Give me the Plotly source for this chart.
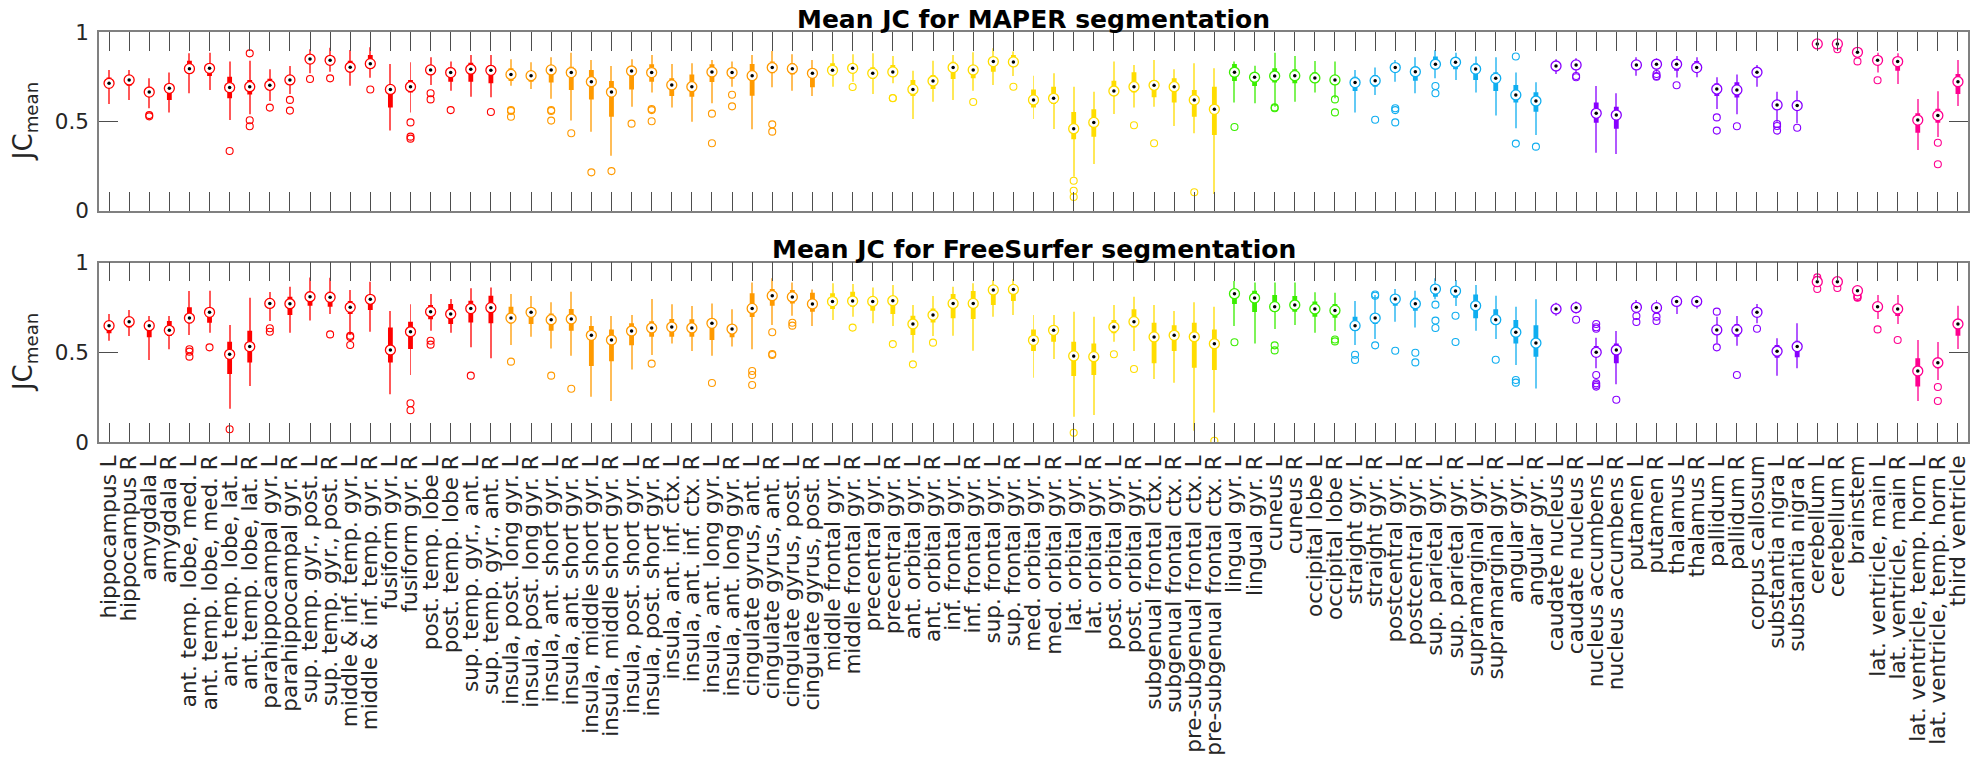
import plotly.graph_objects as go

labels = [
    "hippocampus L", "hippocampus R", "amygdala L", "amygdala R",
    "ant. temp. lobe, med. L", "ant. temp. lobe, med. R", "ant. temp. lobe, lat. L", "ant. temp. lobe, lat. R",
    "parahippocampal gyr. L", "parahippocampal gyr. R", "sup. temp. gyr., post. L", "sup. temp. gyr., post. R",
    "middle & inf. temp. gyr. L", "middle & inf. temp. gyr. R", "fusiform gyr. L", "fusiform gyr. R",
    "post. temp. lobe L", "post. temp. lobe R", "sup. temp. gyr., ant. L", "sup. temp. gyr., ant. R",
    "insula, post. long gyr. L", "insula, post. long gyr. R", "insula, ant. short gyr. L", "insula, ant. short gyr. R",
    "insula, middle short gyr. L", "insula, middle short gyr. R", "insula, post. short gyr. L", "insula, post. short gyr. R",
    "insula, ant. inf. ctx. L", "insula, ant. inf. ctx. R", "insula, ant. long gyr. L", "insula, ant. long gyr. R",
    "cingulate gyrus, ant. L", "cingulate gyrus, ant. R", "cingulate gyrus, post. L", "cingulate gyrus, post. R",
    "middle frontal gyr. L", "middle frontal gyr. R", "precentral gyr. L", "precentral gyr. R",
    "ant. orbital gyr. L", "ant. orbital gyr. R", "inf. frontal gyr. L", "inf. frontal gyr. R",
    "sup. frontal gyr. L", "sup. frontal gyr. R", "med. orbital gyr. L", "med. orbital gyr. R",
    "lat. orbital gyr. L", "lat. orbital gyr. R", "post. orbital gyr. L", "post. orbital gyr. R",
    "subgenual frontal ctx. L", "subgenual frontal ctx. R", "pre-subgenual frontal ctx. L", "pre-subgenual frontal ctx. R",
    "lingual gyr. L", "lingual gyr. R", "cuneus L", "cuneus R",
    "occipital lobe L", "occipital lobe R", "straight gyr. L", "straight gyr. R",
    "postcentral gyr. L", "postcentral gyr. R", "sup. parietal gyr. L", "sup. parietal gyr. R",
    "supramarginal gyr. L", "supramarginal gyr. R", "angular gyr. L", "angular gyr. R",
    "caudate nucleus L", "caudate nucleus R", "nucleus accumbens L", "nucleus accumbens R",
    "putamen L", "putamen R", "thalamus L", "thalamus R",
    "pallidum L", "pallidum R", "corpus callosum", "substantia nigra L", "substantia nigra R",
    "cerebellum L", "cerebellum R", "brainstem",
    "lat. ventricle, main L", "lat. ventricle, main R", "lat. ventricle, temp. horn L", "lat. ventricle, temp. horn R",
    "third ventricle",
]

group_colors = ["#ff0000", "#ff9a00", "#ffdd00", "#3aee00", "#10aef0", "#8800ff", "#ff0090"]
group_sizes = [20, 16, 20, 6, 10, 13, 8]

# ---------- MAPER ----------
maper_lo = [0.598, 0.621, 0.574, 0.551, 0.658, 0.677, 0.508, 0.540, 0.615, 0.654,
            0.770, 0.779, 0.701, 0.745, 0.449, 0.551, 0.705, 0.673, 0.639, 0.636,
            0.701, 0.682, 0.628, 0.505, 0.443, 0.308, 0.583, 0.662, 0.579, 0.499,
            0.602, 0.695, 0.456, 0.692, 0.673, 0.643, 0.695, 0.723, 0.654, 0.714,
            0.514, 0.611, 0.621, 0.673, 0.705, 0.755, 0.514, 0.458, 0.191, 0.262,
            0.542, 0.578, 0.583, 0.475, 0.434, 0.093, 0.606, 0.602, 0.583, 0.611,
            0.662, 0.630, 0.550, 0.649, 0.723, 0.658, 0.742, 0.733, 0.662, 0.533,
            0.462, 0.424, 0.766, 0.770, 0.325, 0.318, 0.757, 0.770, 0.746, 0.748,
            0.570, 0.540, 0.695, 0.499, 0.490, 0.907, 0.910, 0.864, 0.774, 0.710,
            0.340, 0.413, 0.587]
maper_q1 = [0.695, 0.701, 0.649, 0.621, 0.780, 0.755, 0.630, 0.652, 0.677, 0.714,
            0.826, 0.817, 0.789, 0.807, 0.579, 0.662, 0.770, 0.723, 0.723, 0.714,
            0.727, 0.723, 0.718, 0.677, 0.624, 0.527, 0.680, 0.723, 0.643, 0.639,
            0.721, 0.740, 0.645, 0.770, 0.764, 0.692, 0.761, 0.770, 0.738, 0.751,
            0.643, 0.682, 0.738, 0.742, 0.779, 0.817, 0.578, 0.598, 0.400, 0.415,
            0.665, 0.662, 0.636, 0.606, 0.527, 0.424, 0.727, 0.699, 0.718, 0.714,
            0.718, 0.710, 0.671, 0.695, 0.779, 0.729, 0.798, 0.793, 0.733, 0.671,
            0.607, 0.555, 0.800, 0.805, 0.493, 0.460, 0.800, 0.795, 0.785, 0.789,
            0.643, 0.634, 0.748, 0.570, 0.564, 0.920, 0.920, 0.875, 0.825, 0.785,
            0.437, 0.493, 0.654]
maper_med = [0.714, 0.733, 0.665, 0.686, 0.796, 0.798, 0.690, 0.695, 0.703, 0.733,
             0.850, 0.843, 0.804, 0.824, 0.680, 0.695, 0.789, 0.774, 0.793, 0.787,
             0.764, 0.757, 0.789, 0.774, 0.723, 0.665, 0.783, 0.774, 0.705, 0.695,
             0.778, 0.774, 0.757, 0.802, 0.796, 0.770, 0.787, 0.798, 0.770, 0.778,
             0.680, 0.727, 0.802, 0.789, 0.836, 0.834, 0.621, 0.630, 0.460, 0.495,
             0.671, 0.695, 0.703, 0.695, 0.621, 0.568, 0.776, 0.748, 0.755, 0.757,
             0.744, 0.733, 0.718, 0.729, 0.802, 0.779, 0.821, 0.832, 0.794, 0.742,
             0.649, 0.615, 0.811, 0.817, 0.546, 0.536, 0.817, 0.821, 0.821, 0.802,
             0.682, 0.677, 0.776, 0.593, 0.589, 0.935, 0.935, 0.888, 0.843, 0.836,
             0.508, 0.533, 0.723]
maper_q3 = [0.746, 0.745, 0.695, 0.695, 0.841, 0.826, 0.751, 0.733, 0.740, 0.761,
            0.867, 0.860, 0.841, 0.873, 0.695, 0.733, 0.807, 0.804, 0.830, 0.817,
            0.798, 0.779, 0.811, 0.807, 0.789, 0.727, 0.807, 0.821, 0.742, 0.764,
            0.821, 0.793, 0.822, 0.837, 0.826, 0.798, 0.826, 0.811, 0.804, 0.817,
            0.733, 0.761, 0.835, 0.807, 0.860, 0.873, 0.680, 0.695, 0.553, 0.568,
            0.729, 0.776, 0.733, 0.742, 0.677, 0.695, 0.822, 0.770, 0.798, 0.793,
            0.776, 0.761, 0.751, 0.761, 0.826, 0.807, 0.864, 0.854, 0.826, 0.776,
            0.705, 0.664, 0.825, 0.830, 0.607, 0.583, 0.830, 0.835, 0.835, 0.839,
            0.714, 0.720, 0.798, 0.610, 0.621, 0.945, 0.948, 0.905, 0.857, 0.849,
            0.546, 0.572, 0.766]
maper_hi = [0.789, 0.789, 0.742, 0.774, 0.882, 0.886, 0.836, 0.841, 0.793, 0.811,
            0.905, 0.914, 0.901, 0.916, 0.822, 0.832, 0.860, 0.836, 0.873, 0.873,
            0.849, 0.832, 0.860, 0.886, 0.845, 0.811, 0.849, 0.873, 0.822, 0.826,
            0.845, 0.836, 0.873, 0.895, 0.877, 0.845, 0.879, 0.877, 0.882, 0.867,
            0.785, 0.841, 0.873, 0.888, 0.910, 0.892, 0.757, 0.770, 0.695, 0.667,
            0.836, 0.817, 0.845, 0.793, 0.826, 0.798, 0.836, 0.813, 0.886, 0.867,
            0.839, 0.836, 0.789, 0.802, 0.845, 0.860, 0.901, 0.886, 0.864, 0.860,
            0.774, 0.720, 0.849, 0.854, 0.699, 0.658, 0.860, 0.854, 0.867, 0.860,
            0.748, 0.764, 0.817, 0.667, 0.673, 0.961, 0.961, 0.916, 0.886, 0.882,
            0.626, 0.669, 0.845]
maper_out = [[], [], [0.536, 0.529], [], [], [], [0.335], [0.882, 0.507, 0.473], [0.578], [0.621, 0.561],
             [0.738], [0.742], [], [0.679], [], [0.495, 0.415, 0.404], [0.658, 0.624], [0.564], [], [0.553],
             [0.564, 0.559, 0.527], [], [0.564, 0.559, 0.505], [0.434], [0.215], [0.222], [0.488], [0.570, 0.564, 0.501], [], [],
             [0.544, 0.378], [0.650, 0.585], [], [0.484, 0.443], [], [], [], [0.693], [], [0.632, 0.630],
             [], [], [], [0.609], [], [0.695], [], [], [0.168, 0.112, 0.077], [],
             [], [0.479], [0.378], [], [0.103], [], [0.469], [], [0.579, 0.574], [],
             [], [0.624, 0.551], [], [0.510], [0.574, 0.564, 0.495], [], [0.699, 0.658], [], [], [],
             [0.864, 0.376], [0.359], [], [0.755, 0.748], [], [], [], [0.766, 0.755, 0.751], [0.703], [],
             [0.523, 0.449], [0.473], [], [0.486, 0.475, 0.449], [0.465], [], [0.905], [0.837], [0.731], [],
             [], [0.381, 0.260], []]

# ---------- FreeSurfer ----------
fs_lo = [0.565, 0.591, 0.457, 0.517, 0.597, 0.610, 0.186, 0.312, 0.675, 0.610,
         0.677, 0.714, 0.597, 0.615, 0.266, 0.374, 0.621, 0.610, 0.528, 0.467,
         0.541, 0.587, 0.522, 0.481, 0.253, 0.229, 0.405, 0.485, 0.550, 0.507,
         0.481, 0.533, 0.517, 0.652, 0.704, 0.647, 0.680, 0.699, 0.662, 0.647,
         0.498, 0.591, 0.593, 0.509, 0.699, 0.708, 0.359, 0.463, 0.141, 0.151,
         0.559, 0.507, 0.351, 0.331, 0.063, 0.164, 0.647, 0.550, 0.630, 0.652,
         0.610, 0.619, 0.541, 0.574, 0.671, 0.639, 0.796, 0.758, 0.621, 0.574,
         0.429, 0.299, 0.704, 0.717, 0.411, 0.322, 0.717, 0.714, 0.714, 0.745,
         0.550, 0.537, 0.662, 0.370, 0.411, 0.875, 0.870, 0.820, 0.686, 0.658,
         0.229, 0.346, 0.519]
fs_q1 = [0.606, 0.639, 0.584, 0.591, 0.662, 0.665, 0.379, 0.444, 0.758, 0.708,
         0.760, 0.755, 0.714, 0.736, 0.444, 0.519, 0.684, 0.658, 0.667, 0.662,
         0.662, 0.658, 0.621, 0.621, 0.424, 0.450, 0.539, 0.587, 0.587, 0.587,
         0.569, 0.584, 0.697, 0.760, 0.773, 0.727, 0.742, 0.755, 0.732, 0.714,
         0.597, 0.667, 0.690, 0.686, 0.764, 0.786, 0.507, 0.559, 0.368, 0.374,
         0.606, 0.638, 0.439, 0.507, 0.414, 0.401, 0.770, 0.725, 0.727, 0.727,
         0.699, 0.693, 0.619, 0.658, 0.760, 0.732, 0.810, 0.805, 0.690, 0.652,
         0.550, 0.476, 0.730, 0.738, 0.476, 0.439, 0.735, 0.735, 0.770, 0.770,
         0.597, 0.587, 0.699, 0.470, 0.472, 0.885, 0.884, 0.835, 0.740, 0.703,
         0.309, 0.411, 0.593]
fs_med = [0.649, 0.671, 0.649, 0.623, 0.691, 0.723, 0.489, 0.532, 0.773, 0.771,
          0.810, 0.807, 0.751, 0.796, 0.513, 0.615, 0.727, 0.714, 0.744, 0.749,
          0.691, 0.723, 0.682, 0.686, 0.595, 0.569, 0.619, 0.636, 0.641, 0.636,
          0.662, 0.630, 0.745, 0.816, 0.809, 0.770, 0.783, 0.786, 0.784, 0.788,
          0.658, 0.708, 0.773, 0.773, 0.848, 0.851, 0.567, 0.623, 0.480, 0.476,
          0.641, 0.671, 0.586, 0.595, 0.587, 0.548, 0.827, 0.803, 0.755, 0.764,
          0.742, 0.734, 0.649, 0.691, 0.797, 0.771, 0.853, 0.842, 0.760, 0.682,
          0.612, 0.552, 0.742, 0.749, 0.500, 0.513, 0.751, 0.749, 0.784, 0.784,
          0.625, 0.625, 0.723, 0.506, 0.532, 0.894, 0.894, 0.844, 0.755, 0.742,
          0.396, 0.442, 0.658]
fs_q3 = [0.665, 0.690, 0.671, 0.675, 0.751, 0.740, 0.559, 0.621, 0.801, 0.810,
         0.838, 0.838, 0.786, 0.820, 0.639, 0.671, 0.764, 0.770, 0.788, 0.816,
         0.755, 0.745, 0.717, 0.742, 0.647, 0.628, 0.662, 0.673, 0.686, 0.684,
         0.690, 0.658, 0.829, 0.853, 0.848, 0.833, 0.829, 0.838, 0.810, 0.814,
         0.704, 0.745, 0.825, 0.842, 0.875, 0.870, 0.628, 0.652, 0.559, 0.550,
         0.680, 0.740, 0.665, 0.651, 0.665, 0.628, 0.838, 0.844, 0.820, 0.814,
         0.783, 0.770, 0.699, 0.717, 0.823, 0.805, 0.875, 0.857, 0.823, 0.740,
         0.680, 0.651, 0.755, 0.760, 0.535, 0.550, 0.765, 0.762, 0.800, 0.798,
         0.652, 0.658, 0.745, 0.541, 0.565, 0.905, 0.903, 0.852, 0.770, 0.764,
         0.467, 0.467, 0.680]
fs_hi = [0.714, 0.736, 0.703, 0.703, 0.842, 0.844, 0.652, 0.805, 0.836, 0.866,
         0.918, 0.916, 0.848, 0.894, 0.730, 0.768, 0.825, 0.797, 0.857, 0.862,
         0.825, 0.814, 0.779, 0.838, 0.703, 0.703, 0.708, 0.797, 0.768, 0.758,
         0.773, 0.740, 0.890, 0.913, 0.890, 0.851, 0.885, 0.881, 0.861, 0.875,
         0.764, 0.814, 0.866, 0.885, 0.903, 0.907, 0.708, 0.708, 0.727, 0.699,
         0.764, 0.810, 0.764, 0.730, 0.779, 0.755, 0.898, 0.890, 0.890, 0.890,
         0.835, 0.833, 0.786, 0.820, 0.853, 0.844, 0.913, 0.903, 0.875, 0.816,
         0.755, 0.796, 0.777, 0.783, 0.582, 0.619, 0.792, 0.792, 0.816, 0.816,
         0.699, 0.703, 0.770, 0.578, 0.662, 0.915, 0.913, 0.866, 0.820, 0.820,
         0.569, 0.558, 0.760]
fs_out = [[], [], [], [], [0.517, 0.504, 0.476], [0.528], [0.071], [], [0.634, 0.615], [],
          [], [0.600], [0.592, 0.586, 0.541], [], [], [0.216, 0.177], [0.565, 0.543], [], [0.370], [],
          [0.448], [], [0.370], [0.297], [], [], [], [0.437], [], [],
          [0.329], [], [0.396, 0.374, 0.318], [0.612, 0.491, 0.485], [0.665, 0.649], [], [], [0.638], [], [0.546],
          [0.433], [0.554], [], [], [], [], [], [], [0.052], [],
          [0.489], [0.407], [], [], [], [0.007], [0.556], [], [0.539, 0.511], [],
          [], [0.572, 0.561], [0.487, 0.457], [0.823, 0.816, 0.539], [0.509], [0.498, 0.444], [0.766, 0.677, 0.636], [0.704, 0.558], [], [0.459],
          [0.346, 0.331], [], [], [0.682], [0.658, 0.640, 0.632, 0.374, 0.327, 0.318, 0.309], [0.236], [0.703, 0.669], [0.699, 0.675], [], [],
          [0.727, 0.528], [0.374], [0.632], [], [], [0.918, 0.905, 0.890, 0.853], [0.859], [0.815, 0.808, 0.805], [0.628], [0.569],
          [], [0.307, 0.229], []]

titles = ["Mean JC for MAPER segmentation", "Mean JC for FreeSurfer segmentation"]

# ------------------------------------------------------------------
colors = []
for c, n in zip(group_colors, group_sizes):
    colors += [c] * n
xs = list(range(1, len(labels) + 1))

FONT = "DejaVu Sans"
TXT = "#262626"

fig = go.Figure()
panels = [
    (maper_lo, maper_q1, maper_med, maper_q3, maper_hi, maper_out, "x", "y"),
    (fs_lo, fs_q1, fs_med, fs_q3, fs_hi, fs_out, "x2", "y2"),
]
for lo, q1, med, q3, hi, out, xa, ya in panels:
    # whiskers
    fig.add_trace(go.Bar(x=xs, base=lo, y=[h - l for h, l in zip(hi, lo)], width=0.05,
                         marker=dict(color=colors, line=dict(width=0)), opacity=0.65,
                         xaxis=xa, yaxis=ya, showlegend=False, hoverinfo="skip"))
    # boxes
    fig.add_trace(go.Bar(x=xs, base=q1, y=[b - a for b, a in zip(q3, q1)], width=0.24,
                         marker=dict(color=colors, line=dict(width=0)),
                         xaxis=xa, yaxis=ya, showlegend=False, hoverinfo="skip"))
    # outliers
    ox, oy, oc = [], [], []
    for i, vals in enumerate(out):
        for v in vals:
            ox.append(i + 1)
            oy.append(v)
            oc.append(colors[i])
    fig.add_trace(go.Scatter(x=ox, y=oy, mode="markers",
                             marker=dict(symbol="circle-open", size=7, color=oc, line=dict(width=1.1)),
                             xaxis=xa, yaxis=ya, showlegend=False, hoverinfo="skip"))
    # median rings
    fig.add_trace(go.Scatter(x=xs, y=med, mode="markers",
                             marker=dict(symbol="circle", size=10, color="white",
                                         line=dict(color=colors, width=1.3)),
                             xaxis=xa, yaxis=ya, showlegend=False, hoverinfo="skip"))
    # median dots
    fig.add_trace(go.Scatter(x=xs, y=med, mode="markers",
                             marker=dict(symbol="circle", size=3.5, color="black", line=dict(width=0)),
                             xaxis=xa, yaxis=ya, showlegend=False, hoverinfo="skip"))

axis_common = dict(showline=True, linecolor="#808080", linewidth=1.5, mirror="ticks",
                   ticks="inside", ticklen=19, tickcolor="#4d4d4d", tickwidth=1,
                   showgrid=False, zeroline=False, automargin=False)

# the page body adds an 8 px offset; figure coordinates below are page minus 8
W, HT = 1976, 755
L, R = 91.3, 15.7
H = 434.0
fig.update_layout(
    width=W, height=HT,
    margin=dict(l=L, r=R, t=0, b=HT - H, autoexpand=False),
    paper_bgcolor="white", plot_bgcolor="white",
    font=dict(family=FONT, color=TXT),
    barmode="overlay",
    xaxis=dict(domain=[0, 1], range=[0.5, 93.5], tickvals=xs, showticklabels=False,
               anchor="y", **axis_common),
    yaxis=dict(domain=[(H - 202.7) / H, (H - 24.3) / H], range=[0, 1], tickvals=[0, 0.5, 1],
               ticktext=["0", "0.5", "1"], tickfont=dict(size=21.5, color=TXT),
               ticklabelstandoff=4, anchor="x", **axis_common),
    xaxis2=dict(domain=[0, 1], range=[0.5, 93.5], tickvals=xs, ticktext=labels,
                tickangle=-90, tickfont=dict(size=21.5, color=TXT),
                ticklabelstandoff=3, anchor="y2", **axis_common),
    yaxis2=dict(domain=[0, (H - 254.7) / H], range=[0, 1], tickvals=[0, 0.5, 1],
                ticktext=["0", "0.5", "1"], tickfont=dict(size=21.5, color=TXT),
                ticklabelstandoff=4, anchor="x2", **axis_common),
)

PW = W - L - R
ann = []
for t, ypix in zip(titles, [12, 242]):
    ann.append(dict(text="<b>" + t + "</b>", xref="paper", yref="paper", x=0.5, y=(H - ypix) / H,
                    xanchor="center", yanchor="middle", showarrow=False,
                    font=dict(family=FONT, size=25, color="black")))
for yr in ["y domain", "y2 domain"]:
    ann.append(dict(text="JC<sub>mean</sub>", xref="paper", yref=yr, x=(17 - L) / PW, y=0.5,
                    xanchor="center", yanchor="middle", textangle=-90, showarrow=False,
                    font=dict(family=FONT, size=26, color=TXT)))
fig.update_layout(annotations=ann)

fig.write_html("out.html")
